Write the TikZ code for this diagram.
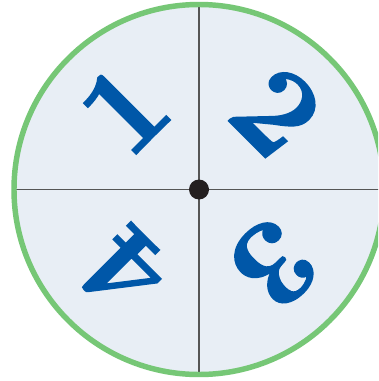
\documentclass[tikz,border=0pt]{standalone}
\usepackage{fontspec}
\newfontfamily\digitfont[FakeBold=1.6]{Latin Modern Roman}
\definecolor{wheelfill}{HTML}{E8EEF5}
\definecolor{wheelgreen}{HTML}{76C776}
\definecolor{digitblue}{HTML}{0057A8}
\definecolor{crossgray}{HTML}{555555}
\definecolor{hubblack}{HTML}{231F20}
\tikzset{
  disc/.style={circle, fill=wheelfill, inner sep=0pt, outer sep=0pt, minimum size=277.5pt},
  crossline/.style={draw=crossgray, line width=1.1pt},
  rim/.style={draw=wheelgreen, line width=4.1pt},
  hubdot/.style={circle, fill=hubblack, inner sep=0pt, minimum size=15pt},
  digit/.style={text=digitblue, font=\digitfont\fontsize{92}{92}\selectfont\bfseries, inner sep=0pt}
}
\begin{document}
\begin{tikzpicture}[x=0.75pt,y=-0.75pt]
\useasboundingbox (0,0) rectangle (378,381);
\clip (0,0) rectangle (378,381);
\fill[white] (0,0) rectangle (378,381);
\node[disc] (wheel) at (199,189.5) {};
\draw[crossline] (wheel.west) -- (wheel.east);
\draw[crossline] (wheel.north) -- (wheel.south);
\draw[rim] (wheel.center) circle[radius=138.75pt];
\node[hubdot] (hub) at (wheel.center) {};
\node[digit, rotate=45] (one) at (124,109) {1};
\node[digit, rotate=-45] (two) at (277,112) {2};
\node[digit, rotate=-135] (three) at (274,264) {3};
\node[digit, rotate=135] (four) at (124,272) {4};
\end{tikzpicture}
\end{document}
